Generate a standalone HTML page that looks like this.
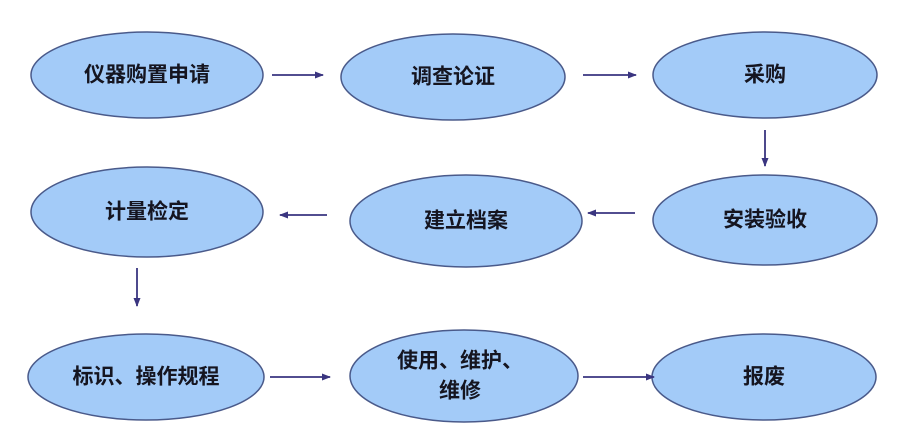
<!DOCTYPE html>
<html><head><meta charset="utf-8"><style>
body{margin:0;background:#fff;}
text{font-family:"Liberation Sans","Noto Sans CJK SC",sans-serif;font-weight:bold;font-size:21px;fill:#151520;text-anchor:middle;dominant-baseline:central;}
</style></head><body>
<svg width="900" height="431" viewBox="0 0 900 431" xmlns="http://www.w3.org/2000/svg">
<defs><marker id="a" markerWidth="9" markerHeight="9" refX="8" refY="4.5" orient="auto" markerUnits="userSpaceOnUse"><path d="M0,1 L9,4.5 L0,8 Z" fill="#3a3580"/></marker></defs>
<g fill="#a3cbf8" stroke="#4a5a8a" stroke-width="1.5">
<ellipse cx="147" cy="75" rx="116" ry="43"/>
<ellipse cx="453" cy="77" rx="112" ry="43"/>
<ellipse cx="765" cy="75" rx="112" ry="43"/>
<ellipse cx="147" cy="212" rx="116" ry="45"/>
<ellipse cx="466" cy="221" rx="116" ry="46"/>
<ellipse cx="765" cy="220" rx="112" ry="45"/>
<ellipse cx="146" cy="377" rx="118" ry="43"/>
<ellipse cx="464" cy="376" rx="114" ry="46"/>
<ellipse cx="764" cy="377" rx="112" ry="43"/>
</g>
<g stroke="#3a3580" stroke-width="1.8" marker-end="url(#a)">
<line x1="272" y1="75" x2="323" y2="75"/>
<line x1="583" y1="75" x2="636" y2="75"/>
<line x1="765" y1="130" x2="765" y2="166"/>
<line x1="635" y1="213" x2="588" y2="213"/>
<line x1="327" y1="215" x2="280" y2="215"/>
<line x1="137" y1="268" x2="137" y2="306"/>
<line x1="270" y1="377" x2="330" y2="377"/>
<line x1="583" y1="377" x2="654" y2="377"/>
</g>
<text x="147" y="75">仪器购置申请</text>
<text x="453" y="77">调查论证</text>
<text x="765" y="75">采购</text>
<text x="147" y="212">计量检定</text>
<text x="466" y="221">建立档案</text>
<text x="765" y="220">安装验收</text>
<text x="146" y="377">标识、操作规程</text>
<text x="460" y="361">使用、维护、</text>
<text x="460" y="391">维修</text>
<text x="764" y="377">报废</text>
</svg>
</body></html>
